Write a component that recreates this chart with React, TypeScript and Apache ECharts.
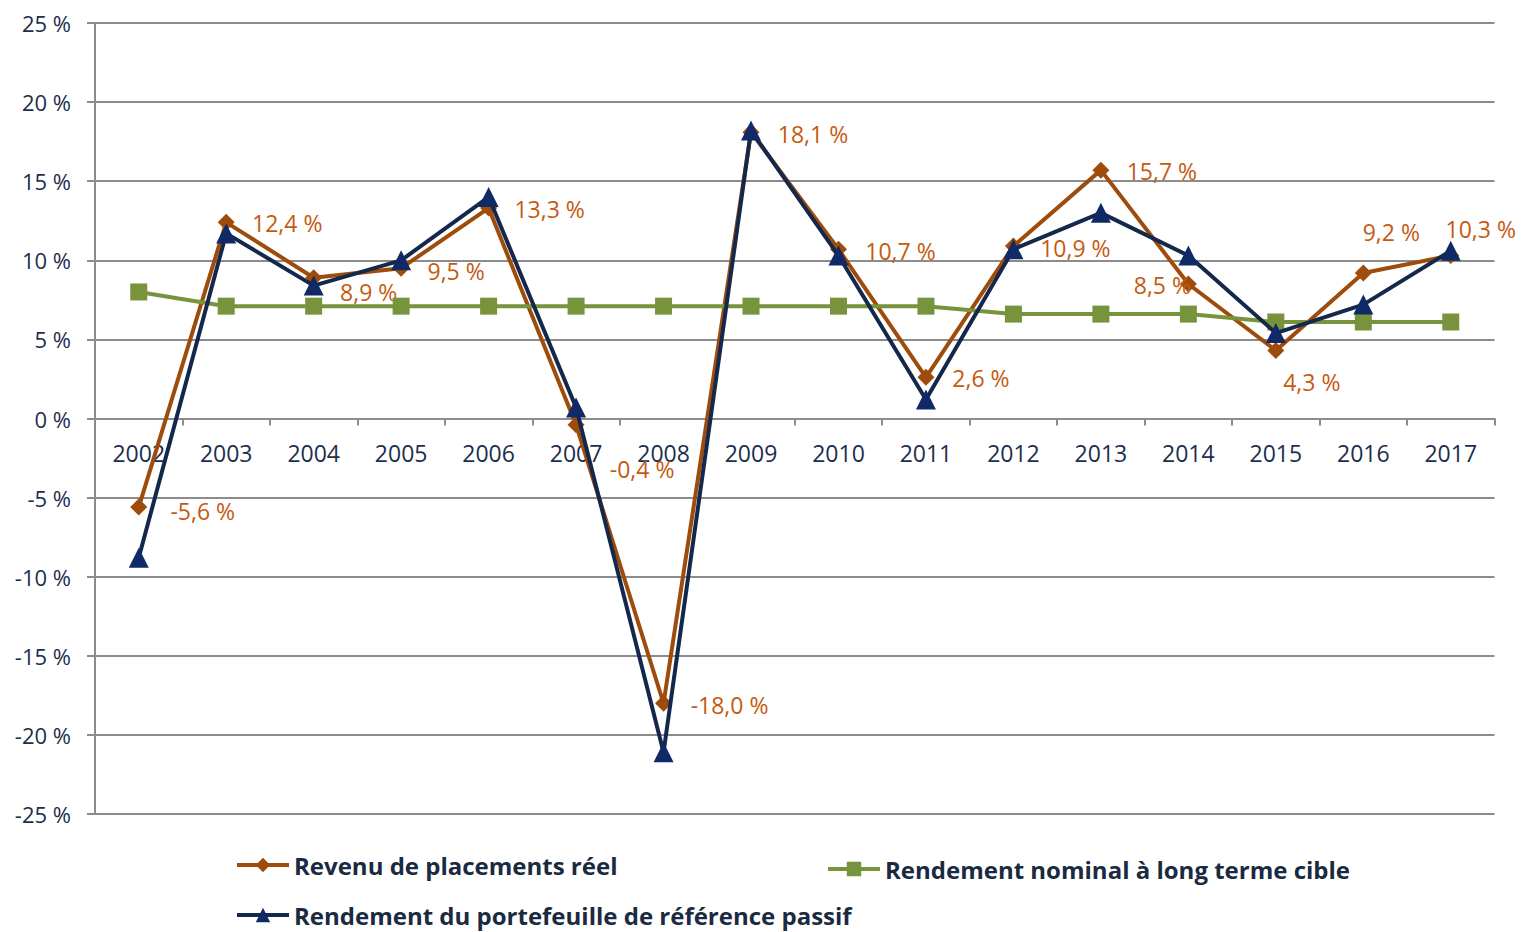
import React, { useEffect, useRef } from "react";
import * as echarts from "echarts";

const years = ["2002","2003","2004","2005","2006","2007","2008","2009","2010","2011","2012","2013","2014","2015","2016","2017"];
const revenuReel = [-5.6, 12.4, 8.9, 9.5, 13.3, -0.4, -18.0, 18.1, 10.7, 2.6, 10.9, 15.7, 8.5, 4.3, 9.2, 10.3];
const rendementCible = [8.0, 7.1, 7.1, 7.1, 7.1, 7.1, 7.1, 7.1, 7.1, 7.1, 6.6, 6.6, 6.6, 6.1, 6.1, 6.1];
const rendementPassif = [-8.8, 11.7, 8.4, 10.0, 14.0, 0.7, -21.1, 18.2, 10.3, 1.2, 10.7, 13.0, 10.3, 5.4, 7.2, 10.6];
const yTicks = [-25, -20, -15, -10, -5, 0, 5, 10, 15, 20, 25];
const labelOffsets = [[64,4],[61,1],[55,14],[55,3],[61,1],[66,44],[66,2],[62,2],[62,2],[55,1],[62,2],[61,1],[-26,1],[36,32],[28,-41],[30,-27]];

const seriesNames = [
  "Revenu de placements réel",
  "Rendement nominal à long terme cible",
  "Rendement du portefeuille de référence passif",
];

const fmt = (v: number) => v.toFixed(1).replace(".", ",") + " %";

export default function App() {
  const ref = useRef<HTMLDivElement>(null);
  useEffect(() => {
    if (!ref.current) return;
    const chart = echarts.init(ref.current, null, { renderer: "svg" });
    const font = "'Open Sans', sans-serif";
    const legendText = { fontFamily: font, fontSize: 24, fontWeight: "bold" as const, color: "#1a2a40" };
    const legendCommon = { itemWidth: 52, itemHeight: 18, textStyle: legendText, padding: 0, itemGap: 5, lineStyle: { width: 4 } };
    chart.setOption({
      animation: false,
      grid: { left: 95, right: 27.5, top: 23, bottom: 118, containLabel: false },
      legend: [
        { ...legendCommon, data: [seriesNames[0]], left: 235, top: 853 },
        { ...legendCommon, data: [seriesNames[1]], left: 826, top: 857 },
        { ...legendCommon, data: [seriesNames[2]], left: 235, top: 903 },
      ],
      xAxis: {
        type: "category",
        data: years,
        boundaryGap: true,
        axisLine: { onZero: true, lineStyle: { color: "#8c8c8c", width: 2 } },
        axisTick: { show: true, length: 7, lineStyle: { color: "#8c8c8c", width: 2 } },
        axisLabel: { color: "#1b2f4d", fontFamily: font, fontSize: 23, margin: -373 },
        splitLine: { show: false },
      },
      yAxis: {
        type: "value",
        min: yTicks[0],
        max: yTicks[yTicks.length - 1],
        interval: 5,
        axisLine: { show: true, lineStyle: { color: "#8c8c8c", width: 2 } },
        axisTick: { show: true, length: 8, lineStyle: { color: "#8c8c8c", width: 2 } },
        axisLabel: { color: "#1b2f4d", fontFamily: font, fontSize: 22, margin: 24, formatter: (v: number) => `${v} %` },
        splitLine: { show: true, lineStyle: { color: "#8c8c8c", width: 2 } },
      },
      series: [
        {
          name: seriesNames[0],
          type: "line",
          data: revenuReel.map((v, i) => ({
            value: v,
            label: { offset: labelOffsets[i] },
          })),
          symbol: "diamond",
          symbolSize: 17,
          itemStyle: { color: "#9e4c0c" },
          lineStyle: { color: "#9e4c0c", width: 4 },
          z: 2,
          label: {
            show: true,
            position: "inside",
            color: "#c55a11",
            fontFamily: font,
            fontSize: 23,
            formatter: (p: any) => fmt(p.value),
          },
        },
        {
          name: seriesNames[1],
          type: "line",
          data: rendementCible,
          symbol: "rect",
          symbolSize: 17,
          itemStyle: { color: "#77933c" },
          lineStyle: { color: "#77933c", width: 4 },
          z: 3,
        },
        {
          name: seriesNames[2],
          type: "line",
          data: rendementPassif,
          symbol: "triangle",
          symbolSize: 20,
          itemStyle: { color: "#0f2a66" },
          lineStyle: { color: "#14284b", width: 4 },
          z: 4,
        },
      ],
    });
    return () => chart.dispose();
  }, []);
  return <div ref={ref} style={{ width: 1522, height: 932, position: "absolute", left: 0, top: 0 }} />;
}
